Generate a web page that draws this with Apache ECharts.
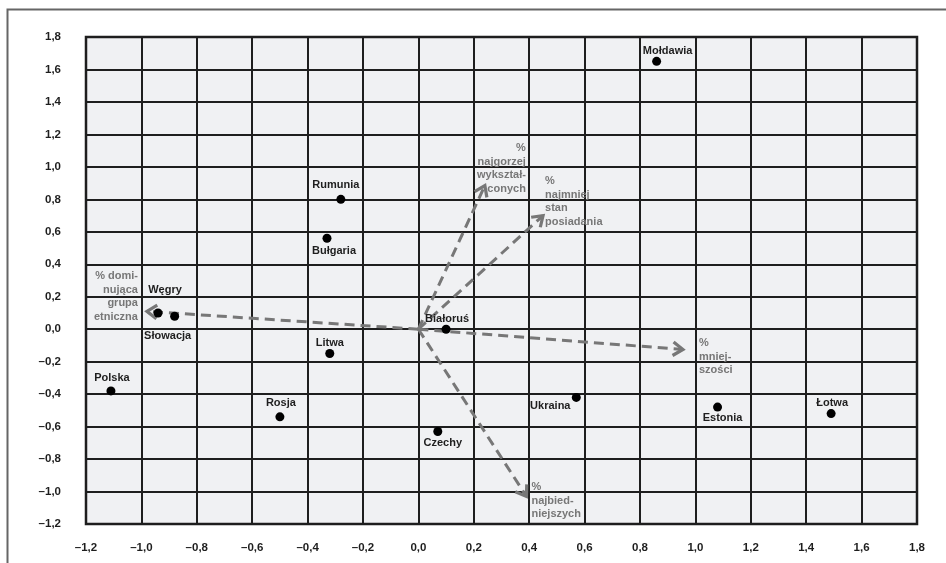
<!DOCTYPE html>
<html>
<head>
<meta charset="utf-8">
<script src="https://cdn.jsdelivr.net/npm/echarts@6/dist/echarts.min.js"></script>
<style>
html,body{margin:0;padding:0;background:#fff;}
#chart{width:946px;height:563px;}
</style>
</head>
<body>
<div id="chart"></div>
<script>
// ---- data ----
var countries = ['Mołdawia','Rumunia','Bułgaria','Węgry','Słowacja','Polska','Litwa','Rosja','Białoruś','Czechy','Ukraina','Estonia','Łotwa'];
var countryX = [0.86,-0.28,-0.33,-0.94,-0.88,-1.11,-0.32,-0.50,0.10,0.07,0.57,1.08,1.49];
var countryY = [1.65,0.80,0.56,0.10,0.08,-0.38,-0.15,-0.54,0.00,-0.63,-0.42,-0.48,-0.52];

var vectorNames = ['% domi-\nnująca\ngrupa\netniczna','%\nnajgorzej\nwykształ-\nconych','%\nnajmniej\nstan\nposiadania','%\nmniej-\nszości','%\nnajbied-\nniejszych'];
var vectorX = [-0.98,0.24,0.45,0.955,0.39];
var vectorY = [0.11,0.885,0.70,-0.125,-1.03];

var axisMin = -1.2, axisMax = 1.8, axisStep = 0.2;

// ---- layout (label placement only) ----
var countryLabelOffsets = [[11,-10],[-5,-14],[7,13],[7,-23],[-7,20],[1,-13],[0,-11],[1,-14],[1,-10],[5,11],[-26,9],[5,11],[1,-11]];
var vectorLabelLayout = [
  {align:'right', dx:-9, dy:-42},
  {align:'right', dx:41, dy:-44},
  {align:'left', dx:2, dy:-41},
  {align:'left', dx:16, dy:-13},
  {align:'left', dx:5, dy:-16}
];

function fmt(v){
  var s = Math.abs(v).toFixed(1).replace('.', ',');
  return (v < -1e-9 ? '\u2013' : '') + s;
}

var scatterData = countries.map(function(n,i){
  return {name:n, value:[countryX[i],countryY[i]], label:{offset:countryLabelOffsets[i]}};
});
var vectorData = vectorNames.map(function(n,i){ return {name:n, value:[vectorX[i],vectorY[i]]}; });

var chart = echarts.init(document.getElementById('chart'), null, {renderer:'canvas'});
var axisCommon = {
  type:'value', min:axisMin, max:axisMax, interval:axisStep,
  axisLine:{show:false}, axisTick:{show:false},
  splitLine:{show:true, lineStyle:{color:'#1e1e1e', width:2}},
  axisLabel:{formatter:fmt, color:'#1e1e1e', fontFamily:'Liberation Sans, Arial', fontWeight:'bold', fontSize:11.5}
};
var option = {
  backgroundColor:'#ffffff',
  animation:false,
  graphic:[{type:'rect', left:5, top:7, shape:{width:1000,height:1000}, style:{fill:'none', stroke:'#666', lineWidth:2}, z:100}],
  grid:{left:86, right:29, top:37, bottom:39, show:true, backgroundColor:'#f0f1f3', borderColor:'#1e1e1e', borderWidth:2.5},
  xAxis: Object.assign({}, axisCommon, {axisLabel:Object.assign({}, axisCommon.axisLabel, {margin:18})}),
  yAxis: Object.assign({}, axisCommon, {axisLabel:Object.assign({}, axisCommon.axisLabel, {margin:25})}),
  series:[
    {
      type:'custom',
      coordinateSystem:'cartesian2d',
      data:vectorData,
      z:3,
      renderItem:function(params, api){
        var i = params.dataIndex;
        var s = api.coord([0,0]);
        var e = api.coord([api.value(0), api.value(1)]);
        var ang = Math.atan2(e[1]-s[1], e[0]-s[0]);
        var L = 12, W = 0.6;
        var p1 = [e[0]-L*Math.cos(ang-W), e[1]-L*Math.sin(ang-W)];
        var p2 = [e[0]-L*Math.cos(ang+W), e[1]-L*Math.sin(ang+W)];
        var lay = vectorLabelLayout[i];
        return {
          type:'group',
          children:[
            {type:'line', shape:{x1:s[0],y1:s[1],x2:e[0],y2:e[1]}, style:{stroke:'#777',lineWidth:3,lineDash:[10,6]}},
            {type:'polyline', shape:{points:[p1,e,p2]}, style:{stroke:'#777',lineWidth:3.2,fill:null,lineJoin:'miter'}},
            {type:'text', x:e[0]+lay.dx, y:e[1]+lay.dy, style:{text:vectorNames[i], fill:'#777', font:'bold 11px "Liberation Sans", Arial', align:lay.align, verticalAlign:'top', lineHeight:13.5}}
          ]
        };
      }
    },
    {
      type:'scatter',
      data:scatterData,
      symbol:'circle',
      symbolSize:9,
      z:5,
      itemStyle:{color:'#000', opacity:1},
      label:{show:true, position:'inside', formatter:'{b}', color:'#1e1e1e', fontFamily:'Liberation Sans, Arial', fontWeight:'bold', fontSize:11, align:'center', verticalAlign:'middle'}
    }
  ]
};
chart.setOption(option);
</script>
</body>
</html>
